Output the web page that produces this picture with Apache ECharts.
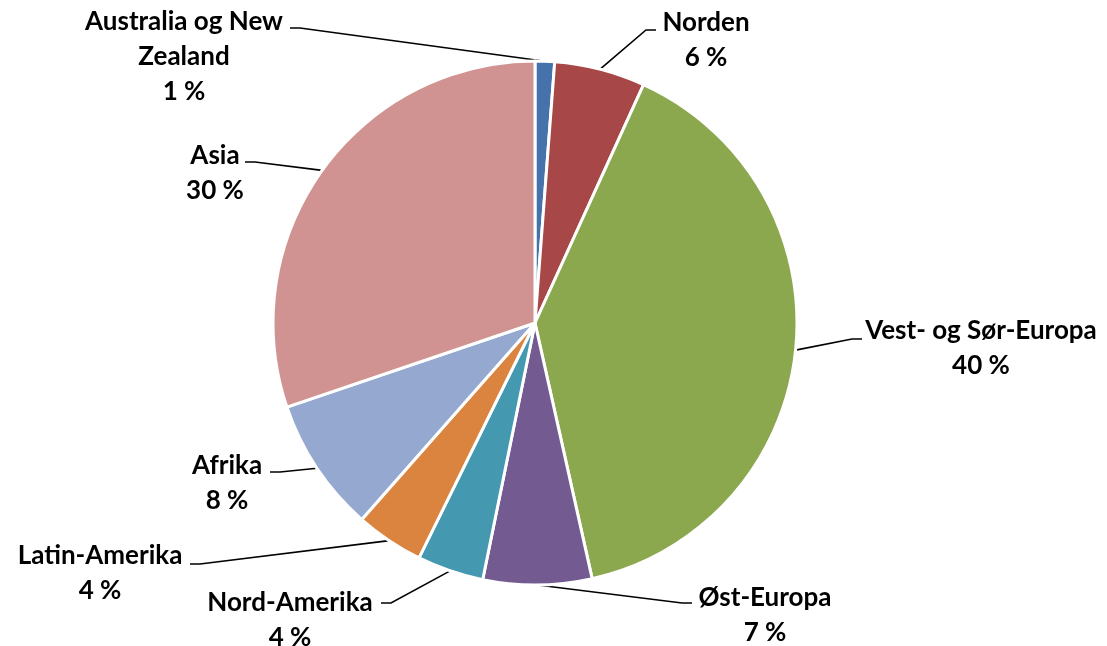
<!DOCTYPE html>
<html><head><meta charset="utf-8">
<script src="https://cdn.jsdelivr.net/npm/echarts@6/dist/echarts.min.js"></script>
<style>html,body{margin:0;padding:0;background:#fff}#c{width:1107px;height:646px}</style>
</head><body><div id="c"></div>
<script>
const categories = ['Australia og New\nZealand', 'Norden', 'Vest- og Sør-Europa', 'Øst-Europa', 'Nord-Amerika', 'Latin-Amerika', 'Afrika', 'Asia'];
const values = [1.2, 5.6, 39.7, 6.7, 4.1, 4.2, 8.3, 30.2];
const colors = ['#4672AC', '#A84747', '#8BA84F', '#735A90', '#4498B0', '#DA843F', '#95A9D0', '#D19392'];
// label placement: [text block centre x, centre y, line end x, line end y, side (+1 line goes right from end)]
const labelSpots = [
  [184, 57, 290, 28, 1],
  [706, 40, 656, 30, -1],
  [981, 348, 862, 339, -1],
  [765, 615, 692, 603, -1],
  [290, 620, 381, 603, 1],
  [100, 573, 190, 564, 1],
  [227, 483, 270, 472, 1],
  [215, 173, 245, 162, 1]
];

const chart = echarts.init(document.getElementById('c'));
chart.setOption({
  animation: false,
  series: [{
    type: 'pie',
    center: [535, 323],
    radius: 262,
    startAngle: 90,
    clockwise: true,
    data: categories.map((n, i) => ({ name: n, value: values[i], itemStyle: { color: colors[i] } })),
    itemStyle: { borderColor: '#fff', borderWidth: 3 },
    label: {
      show: true,
      formatter: p => p.name + '\n' + Math.round(p.percent) + ' %',
      fontFamily: 'Lato',
      fontWeight: 'bold',
      fontSize: 26,
      lineHeight: 35,
      color: '#000',
      align: 'center'
    },
    labelLine: { show: true, lineStyle: { color: '#000', width: 1.6 } },
    labelLayout: function (params) {
      const s = labelSpots[params.dataIndex];
      const start = params.labelLinePoints ? params.labelLinePoints[0] : [s[2], s[3]];
      return {
        x: s[0], y: s[1], align: 'center', verticalAlign: 'middle',
        labelLinePoints: [start, [s[2] + s[4] * 10, s[3]], [s[2], s[3]]]
      };
    }
  }]
});
</script></body></html>
